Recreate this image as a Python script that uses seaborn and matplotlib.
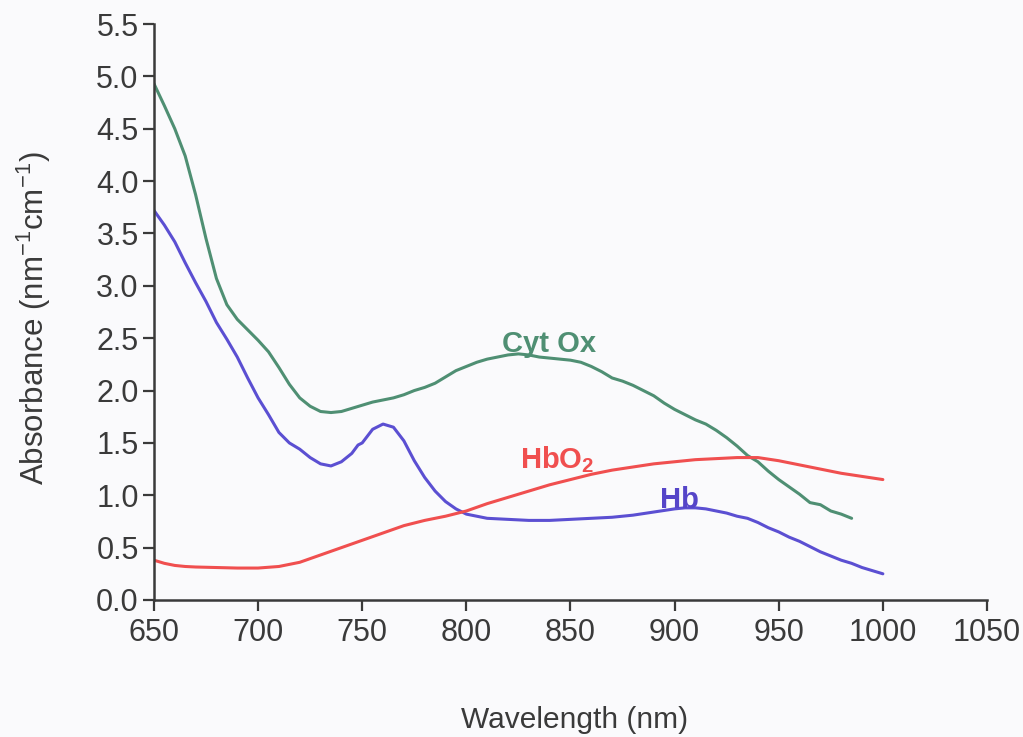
import matplotlib
matplotlib.use("Agg")
import matplotlib.pyplot as plt
import pandas as pd
import seaborn as sns

# Absorption spectra of the main NIR chromophores
cyt_wl = [650, 655, 660, 665, 670, 675, 680, 685, 690, 695, 700, 705, 710, 715,
          720, 725, 730, 735, 740, 745, 750, 755, 760, 765, 770, 775, 780, 785,
          790, 795, 800, 805, 810, 815, 820, 825, 830, 835, 840, 845, 850, 855,
          860, 865, 870, 875, 880, 885, 890, 895, 900, 905, 910, 915, 920, 925,
          930, 935, 940, 945, 950, 955, 960, 965, 970, 975, 980, 985]
cyt_abs = [4.93, 4.72, 4.50, 4.24, 3.87, 3.45, 3.07, 2.82, 2.68, 2.58, 2.48, 2.37,
           2.22, 2.06, 1.93, 1.85, 1.80, 1.79, 1.80, 1.83, 1.86, 1.89, 1.91, 1.93,
           1.96, 2.00, 2.03, 2.07, 2.13, 2.19, 2.23, 2.27, 2.30, 2.32, 2.34, 2.35,
           2.34, 2.32, 2.31, 2.30, 2.29, 2.27, 2.23, 2.18, 2.12, 2.09, 2.05, 2.00,
           1.95, 1.88, 1.82, 1.77, 1.72, 1.68, 1.62, 1.55, 1.47, 1.38, 1.32, 1.23,
           1.15, 1.08, 1.01, 0.93, 0.91, 0.85, 0.82, 0.78]

hb_wl = [650, 655, 660, 665, 670, 675, 680, 685, 690, 695, 700, 705, 710, 715,
         720, 725, 730, 735, 740, 745, 748, 750, 755, 760, 765, 770, 775, 780,
         785, 790, 795, 800, 805, 810, 820, 830, 840, 850, 860, 870, 880, 890,
         900, 905, 910, 915, 920, 925, 930, 935, 940, 945, 950, 955, 960, 965,
         970, 975, 980, 985, 990, 995, 1000]
hb_abs = [3.72, 3.58, 3.42, 3.22, 3.03, 2.85, 2.65, 2.49, 2.32, 2.12, 1.93, 1.77,
          1.60, 1.50, 1.44, 1.36, 1.30, 1.28, 1.32, 1.40, 1.48, 1.50, 1.63, 1.68,
          1.65, 1.52, 1.33, 1.17, 1.04, 0.94, 0.87, 0.82, 0.80, 0.78, 0.77, 0.76,
          0.76, 0.77, 0.78, 0.79, 0.81, 0.84, 0.87, 0.88, 0.88, 0.87, 0.85, 0.83,
          0.80, 0.78, 0.74, 0.69, 0.65, 0.60, 0.56, 0.51, 0.46, 0.42, 0.38, 0.35,
          0.31, 0.28, 0.25]

hbo2_wl = [650, 655, 660, 665, 670, 680, 690, 700, 710, 720, 730, 740, 750, 760,
           770, 780, 790, 800, 810, 820, 830, 840, 850, 860, 870, 880, 890, 900,
           910, 920, 930, 940, 950, 960, 970, 980, 990, 1000]
hbo2_abs = [0.38, 0.35, 0.33, 0.32, 0.315, 0.31, 0.305, 0.305, 0.32, 0.36, 0.43,
            0.50, 0.57, 0.64, 0.71, 0.76, 0.80, 0.85, 0.92, 0.98, 1.04, 1.10, 1.15,
            1.20, 1.24, 1.27, 1.30, 1.32, 1.34, 1.35, 1.36, 1.36, 1.33, 1.29, 1.25,
            1.21, 1.18, 1.15]

x_ticks = [650, 700, 750, 800, 850, 900, 950, 1000, 1050]
y_ticks = [0.0, 0.5, 1.0, 1.5, 2.0, 2.5, 3.0, 3.5, 4.0, 4.5, 5.0, 5.5]

GREEN = "#4f8f73"
BLUE = "#5b4fd2"
RED = "#f04f4f"
INK = "#3a3a3a"

sns.set_theme(style="ticks")
plt.rcParams["font.family"] = ["Liberation Sans", "DejaVu Sans"]
plt.rcParams["mathtext.default"] = "regular"

fig = plt.figure(figsize=(10.23, 7.37), dpi=100, facecolor="#fafafc")
ax = fig.add_axes([0.1505, 0.1859, 0.8143, 0.7815])
ax.set_facecolor("#fafafc")

frames = [
    pd.DataFrame({"wl": cyt_wl, "abs": cyt_abs}),
    pd.DataFrame({"wl": hb_wl, "abs": hb_abs}),
    pd.DataFrame({"wl": hbo2_wl, "abs": hbo2_abs}),
]
for df, col in zip(frames, [GREEN, BLUE, RED]):
    sns.lineplot(data=df, x="wl", y="abs", ax=ax, color=col, linewidth=2.2,
                 estimator=None, sort=False)

ax.set_xlim(650, 1050)
ax.set_ylim(0, 5.5)
ax.set_xticks(x_ticks)
ax.set_xticklabels([str(v) for v in x_ticks])
ax.set_yticks(y_ticks)
ax.set_yticklabels([f"{v:.1f}" for v in y_ticks])

for side in ("top", "right"):
    ax.spines[side].set_visible(False)
for side in ("left", "bottom"):
    ax.spines[side].set_color(INK)
    ax.spines[side].set_linewidth(1.8)

ax.tick_params(axis="both", colors=INK, labelcolor=INK, labelsize=22,
               width=1.6, length=8, direction="out")
ax.tick_params(axis="x", pad=5)
ax.tick_params(axis="y", pad=3)

ax.set_xlabel("Wavelength (nm)", fontsize=21.5, color=INK)
ax.set_ylabel("Absorbance (nm$^{-1}$cm$^{-1}$)", fontsize=22.5, color=INK)
ax.xaxis.set_label_coords(0.505, -0.184)
ax.yaxis.set_label_coords(-0.121, 0.49)

label_kw = dict(fontsize=21, fontweight="bold", va="baseline", ha="left")
ax.text(817, 2.37, "Cyt Ox", color=GREEN, **label_kw)
ax.text(826, 1.26, "HbO$_2$", color=RED, **label_kw)
ax.text(893, 0.88, "Hb", color="#5545c8", **label_kw)

fig.savefig("out.png", dpi=100, facecolor=fig.get_facecolor())
